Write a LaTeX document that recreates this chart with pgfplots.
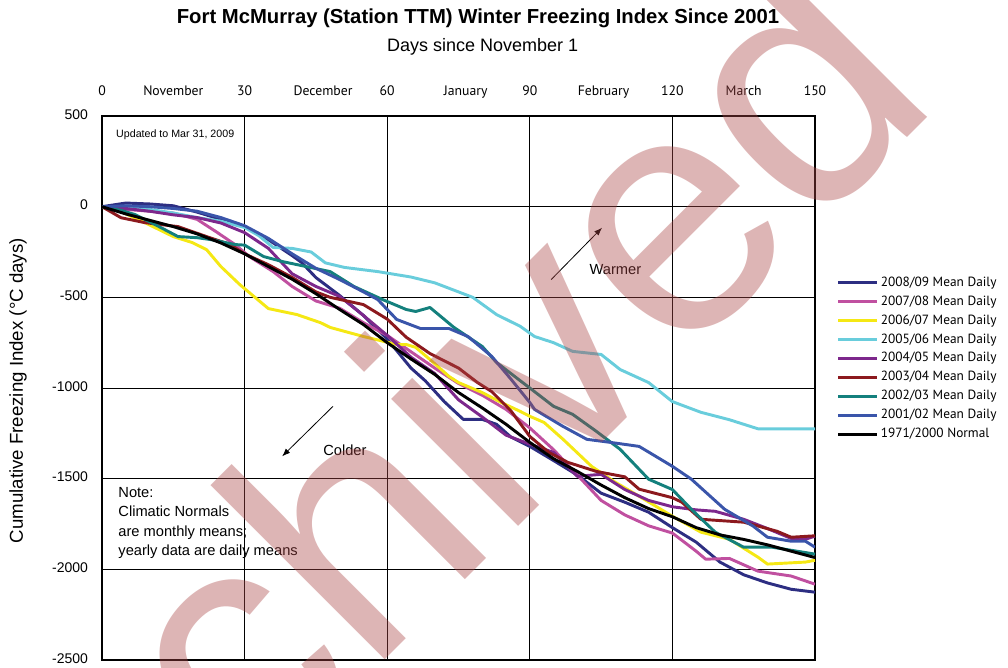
\documentclass[border=0pt]{standalone}
\usepackage{fontspec}
\setmainfont{Liberation Sans}
\newfontfamily\legfont{PT Sans}
\usepackage{pgfplots}
\pgfplotsset{compat=1.18}
\usetikzlibrary{arrows.meta}

\definecolor{cA}{RGB}{45,46,130}   % 2008/09
\definecolor{cB}{RGB}{192,80,160}  % 2007/08
\definecolor{cC}{RGB}{245,232,20}  % 2006/07
\definecolor{cD}{RGB}{105,205,220} % 2005/06
\definecolor{cE}{RGB}{125,40,140}  % 2004/05
\definecolor{cF}{RGB}{140,25,30}   % 2003/04
\definecolor{cG}{RGB}{20,128,125}  % 2002/03
\definecolor{cH}{RGB}{58,85,170}   % 2001/02
\definecolor{wm}{RGB}{170,70,70}

\begin{document}
\begin{tikzpicture}
\path[use as bounding box] (0,0) rectangle (756pt,-501pt);

\node[font=\bfseries\fontsize{15.2}{17}\selectfont] at (358.5pt,-13.5pt)
  {Fort McMurray (Station TTM) Winter Freezing Index Since 2001};
\node[font=\fontsize{13.5}{15}\selectfont] at (362pt,-35.25pt) {Days since November 1};
\node[rotate=90,font=\fontsize{14}{16}\selectfont] at (13.5pt,-293pt)
  {Cumulative Freezing Index (°C days)};

\begin{axis}[
  at={(76.5pt,-87pt)}, anchor=north west,
  scale only axis, width=534.75pt, height=408pt,
  xmin=0, xmax=150, ymin=-2500, ymax=500,
  xtick={0,30,...,150}, ytick={-2500,-2000,...,500},
  extra x ticks={15,46.5,76.5,105.5,135},
  extra x tick labels={November,December,January,February,March},
  extra x tick style={grid=none},
  xticklabel pos=top,
  typeset ticklabels with strut,
  xticklabel style={font=\legfont\fontsize{10.3}{12}\selectfont, yshift=8pt},
  yticklabel style={font=\fontsize{10.5}{12}\selectfont, xshift=-7pt},
  /pgf/number format/assume math mode=true,
  /pgf/number format/1000 sep={},
  grid=major,
  major grid style={black, line width=0.75pt},
  axis line style={black, line width=1pt},
  tick style={draw=none},
  legend style={at={(axis description cs:1,0.715)}, anchor=north west,
    xshift=13pt, draw=none, fill=none,
    font=\legfont\fontsize{10}{11.5}\selectfont, row sep=1.6pt,
    cells={anchor=west}},
  legend image code/.code={\draw[#1] (0pt,0pt) -- (29pt,0pt);},
  every axis plot/.append style={line width=2.2pt, line join=round},
]
% 2008/09
\addplot[cA] coordinates {
(0,0) (5,20) (10,15) (15,5) (20,-30) (25,-70) (30,-110) (35,-182) (40,-270)
(42,-308) (45,-391) (50,-490) (55,-600) (60,-730) (65,-890) (68,-960)
(72,-1075) (76,-1173) (80,-1173) (83,-1200) (86,-1270) (90,-1322)
(95,-1400) (100,-1480) (105,-1580) (110,-1630) (115,-1685) (120,-1770)
(125,-1850) (130,-1960) (135,-2030) (140,-2075) (145,-2110) (150,-2126)};
% 2007/08
\addplot[cB] coordinates {
(0,0) (5,-15) (10,-25) (15,-35) (20,-70) (24,-138) (28,-209) (31,-275)
(36,-358) (40,-440) (45,-520) (50,-560) (55,-640) (60,-710) (65,-800)
(70,-890) (75,-975) (80,-1040) (85,-1118) (90,-1220) (95,-1340)
(100,-1480) (105,-1620) (110,-1700) (115,-1760) (120,-1800) (125,-1900)
(127,-1944) (132,-1940) (138,-2010) (145,-2037) (150,-2082)};
% 2006/07
\addplot[cC] coordinates {
(0,0) (4,-27) (9,-88) (15,-165) (19,-198) (22,-237) (25,-330) (29,-430)
(35,-562) (41,-595) (46,-640) (48,-666) (55,-716) (62,-760) (64,-760)
(66,-776) (69,-843) (73,-936) (75,-970) (80,-1025) (84,-1080) (88,-1129)
(90,-1156) (93,-1190) (97,-1283) (103,-1432) (108,-1520) (113,-1597)
(120,-1707) (126,-1795) (132,-1834) (138,-1933) (140,-1971) (148,-1960)
(150,-1950)};
% 2005/06
\addplot[cD] coordinates {
(0,0) (5,-5) (10,-15) (15,-35) (20,-60) (25,-80) (30,-115) (33,-160)
(36,-225) (40,-230) (44,-250) (47,-310) (51,-335) (58,-358) (65,-388)
(70,-420) (74,-460) (78,-500) (83,-595) (88,-660) (91,-716) (95,-750)
(99,-798) (105,-815) (109,-898) (115,-970) (120,-1075) (126,-1134)
(132,-1175) (138,-1225) (150,-1225)};
% 2004/05
\addplot[cE] coordinates {
(0,0) (5,-10) (10,-25) (15,-45) (20,-60) (25,-90) (30,-143) (35,-230)
(40,-370) (45,-440) (50,-495) (55,-600) (60,-710) (65,-830) (70,-920)
(75,-1065) (80,-1160) (85,-1260) (90,-1310) (95,-1355) (100,-1487)
(105,-1476) (110,-1560) (115,-1620) (120,-1655) (125,-1672) (129,-1680)
(135,-1724) (140,-1775) (145,-1830) (148,-1834) (150,-1817)};
% 2003/04
\addplot[cF] coordinates {
(0,0) (4,-61) (9,-88) (16,-110) (22,-165) (27,-209) (30,-260) (35,-320)
(40,-390) (45,-470) (48,-500) (55,-540) (60,-620) (64,-720) (69,-810)
(75,-890) (79,-970) (82,-1020) (86,-1125) (90,-1267) (94,-1355)
(98,-1410) (104,-1460) (110,-1490) (113,-1558) (120,-1605) (122,-1630)
(126,-1724) (135,-1740) (142,-1790) (145,-1823) (150,-1815)};
% 2002/03
\addplot[cG] coordinates {
(0,0) (4,-20) (7,-44) (12,-110) (16,-165) (20,-171) (23,-182) (28,-209)
(30,-212) (34,-275) (38,-303) (44,-336) (48,-358) (53,-440) (59,-512)
(64,-567) (66,-578) (69,-556) (74,-665) (80,-771) (83,-859) (87,-940)
(90,-1000) (95,-1101) (99,-1145) (104,-1239) (109,-1338) (115,-1503)
(120,-1560) (124,-1669) (129,-1795) (135,-1878) (141,-1878) (150,-1916)};
% 2001/02
\addplot[cH] coordinates {
(0,0) (5,5) (10,0) (15,-10) (20,-25) (25,-60) (30,-105) (35,-175)
(40,-260) (45,-340) (50,-402) (55,-470) (58,-512) (62,-622) (67,-672)
(73,-672) (77,-716) (82,-826) (86,-950) (90,-1080) (91,-1118) (97,-1212)
(102,-1283) (107,-1300) (113,-1322) (120,-1432) (124,-1503) (131,-1669)
(137,-1762) (140,-1823) (145,-1845) (148,-1845) (150,-1878)};
% 1971/2000 normal
\addplot[black] coordinates {
(0,0) (5,-40) (10,-75) (15,-110) (20,-150) (25,-200) (30,-260) (35,-330)
(40,-400) (45,-480) (50,-567) (55,-650) (60,-750) (65,-840) (70,-925)
(75,-1025) (80,-1110) (85,-1200) (90,-1300) (95,-1390) (100,-1460)
(105,-1535) (110,-1605) (115,-1665) (120,-1710) (125,-1770) (130,-1810)
(135,-1835) (140,-1865) (145,-1900) (150,-1935)};
\legend{2008/09 Mean Daily,2007/08 Mean Daily,2006/07 Mean Daily,
  2005/06 Mean Daily,2004/05 Mean Daily,2003/04 Mean Daily,
  2002/03 Mean Daily,2001/02 Mean Daily,1971/2000 Normal}

\node[anchor=west, font=\fontsize{8}{9}\selectfont] at (axis cs:2.0,396) {Updated to Mar 31, 2009};
\draw[-{Latex[length=6pt,width=4.5pt]}, line width=0.6pt] (axis cs:94.5,-402) -- (axis cs:105.2,-116);
\node[anchor=west, font=\fontsize{11}{13}\selectfont] at (axis cs:101.6,-347) {Warmer};
\draw[-{Latex[length=6pt,width=4.5pt]}, line width=0.6pt] (axis cs:48.6,-1101) -- (axis cs:37.9,-1377);
\node[font=\fontsize{11}{13}\selectfont] at (axis cs:51.1,-1345) {Colder};
\node[anchor=north west, align=left, inner sep=0pt, font=\fontsize{11}{14.7}\selectfont]
  at (axis cs:3.4,-1545) {Note:\\Climatic Normals\\are monthly means;\\yearly data are daily means};
\end{axis}

\node[rotate=45, anchor=base west, inner sep=0pt, text=wm, text opacity=0.4,
  font=\fontsize{255}{255}\selectfont] at (6pt,-777.75pt) {Archived};
\end{tikzpicture}
\end{document}
